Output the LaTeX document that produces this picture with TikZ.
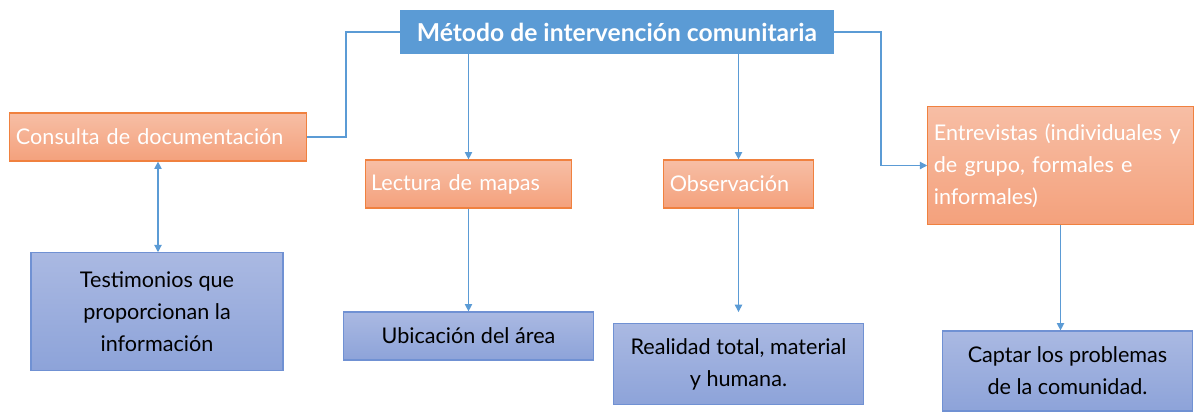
\documentclass[tikz,border=0pt]{standalone}
\usepackage{fontspec}
\setmainfont{Lato}
\usetikzlibrary{arrows.meta}

\definecolor{linea}{HTML}{5B9BD5}
\definecolor{naranjaA}{HTML}{F7BEA5}
\definecolor{naranjaB}{HTML}{F4A17C}
\definecolor{naranjaBorde}{HTML}{F0813F}
\definecolor{azulA}{HTML}{AAB9E2}
\definecolor{azulB}{HTML}{8DA3D9}
\definecolor{azulBorde}{HTML}{7091D3}

\tikzset{
  titulo/.style={fill=linea, text=white, font=\bfseries\fontsize{18.5}{22}\selectfont,
    minimum width=325pt, minimum height=33pt, inner sep=0pt},
  metodo/.style={draw=naranjaBorde, line width=0.9pt, top color=naranjaA, bottom color=naranjaB,
    text=white, font=\fontsize{16.2}{24}\selectfont, align=left, inner sep=0pt},
  resultado/.style={draw=azulBorde, line width=0.9pt, top color=azulA, bottom color=azulB,
    text=black, font=\fontsize{16.2}{24}\selectfont, align=center, inner sep=0pt},
  conn/.style={draw=linea, line width=0.9pt},
  flecha/.style={conn, -{Triangle[width=5.5pt,length=5.5pt]}}
}

\begin{document}
\begin{tikzpicture}[x=0.75pt,y=-0.75pt]
		\useasboundingbox (0,0) rectangle (1195,411);

		\node[titulo] (metodo) at (617,32) {Método de intervención comunitaria\hspace{4pt}};

		\node[metodo, minimum width=223pt, minimum height=36pt, text width=213pt] (consulta) at (158,137) {Consulta de documentación};
		\node[metodo, minimum width=155pt, minimum height=36pt, text width=146pt] (lectura) at (468.5,184) {Lectura de mapas};
		\node[metodo, minimum width=112pt, minimum height=36pt, text width=103pt] (observ) at (738.5,184) {Observación};
		\node[metodo, minimum width=199pt, minimum height=88pt, text width=190pt] (entrev) at (1060.5,165.5) {Entrevistas (individuales y\\de grupo, formales e\\informales)};

		\node[resultado, minimum width=189pt, minimum height=88pt] (testim) at (157,311.5) {Testimonios que\\proporcionan la\\información};
		\node[resultado, minimum width=188pt, minimum height=36pt] (ubic) at (468.5,336) {Ubicación del área};
		\node[resultado, minimum width=188pt, minimum height=61pt] (realidad) at (738.5,364) {Realidad total, material\\y humana.};
		\node[resultado, minimum width=188pt, minimum height=60pt] (captar) at (1067.5,371) {Captar los problemas\\de la comunidad.};

		% ramas del titulo
		\draw[conn] (metodo.west) -- ++(-54,0) |- (consulta.east);
		\draw[flecha] (metodo.east) -- ++(47,0) |- (entrev.west);
		\draw[flecha] (metodo.south -| lectura.north) -- (lectura.north);
		\draw[flecha] (metodo.south -| observ.north) -- (observ.north);

		% resultados
		\draw[conn, {Triangle[width=5.5pt,length=5.5pt]}-{Triangle[width=5.5pt,length=5.5pt]}] (consulta.south) -- (consulta.south |- testim.north);
		\draw[flecha] (lectura.south) -- (ubic.north);
		\draw[flecha, shorten >=8pt] (observ.south) -- (realidad.north);
		\draw[flecha] (entrev.south) -- (entrev.south |- captar.north);
	\end{tikzpicture}
\end{document}
